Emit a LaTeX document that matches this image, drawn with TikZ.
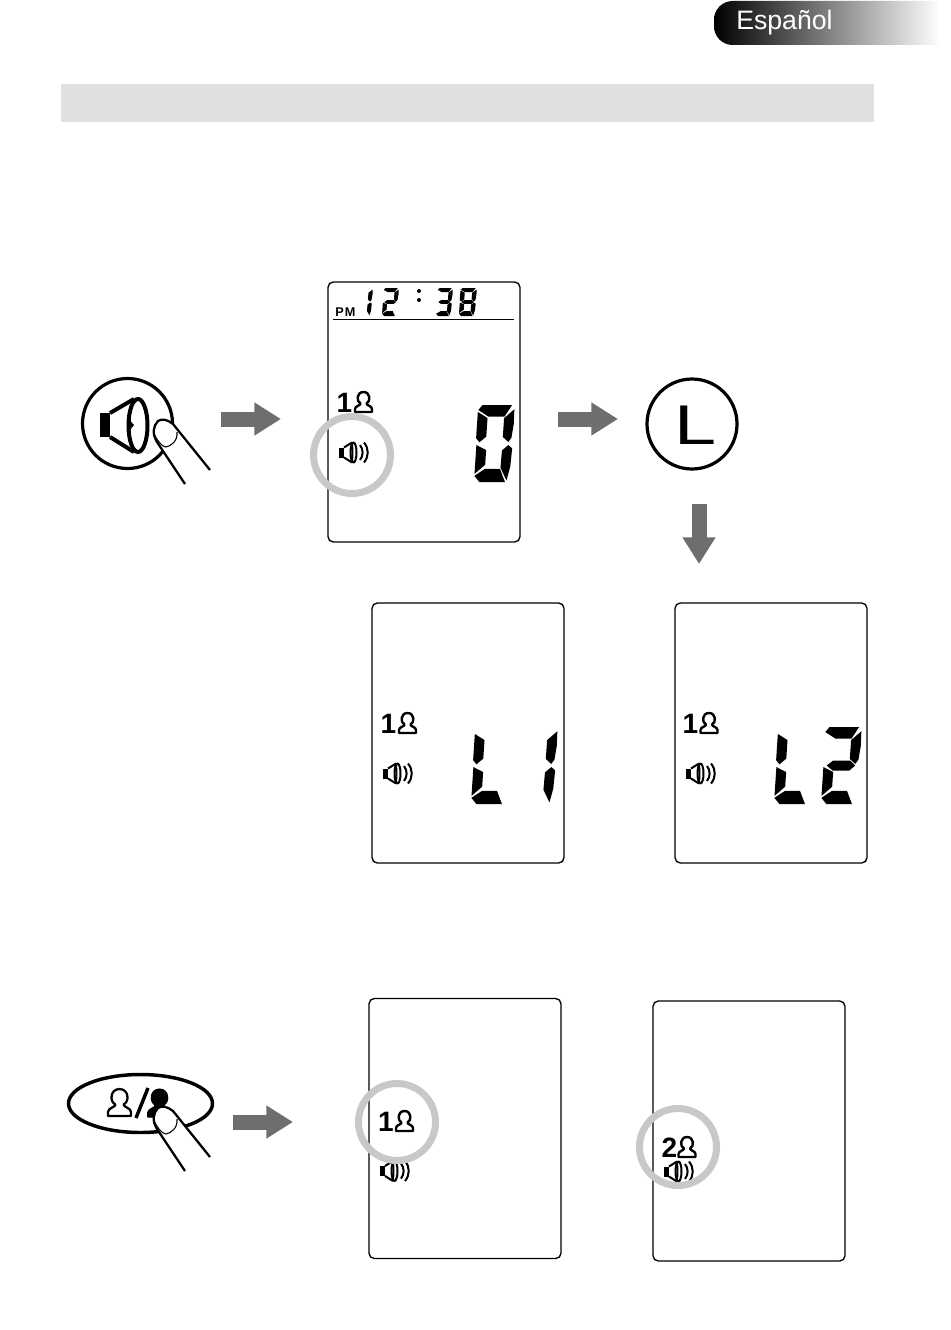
\documentclass[tikz,border=0pt]{standalone}
\usepackage{fontspec}
\setmainfont{Liberation Sans}
\usetikzlibrary{arrows.meta, shapes.geometric}
\definecolor{bar_gray}{HTML}{dfe1e0}
\definecolor{arrow_gray}{HTML}{6e6e6e}
\definecolor{ring_gray}{HTML}{c8c8c8}
\tikzset{
	lcd/.style={draw, line width=1pt, rounded corners=4pt, minimum width=144pt, minimum height=195pt, inner sep=0pt},
	btn/.style={draw, circle, line width=2.4pt, minimum size=67.5pt, inner sep=0pt},
	ring/.style={draw=ring_gray, circle, line width=5.25pt, minimum size=57.75pt, inner sep=0pt},
	bigarrow/.style={draw=arrow_gray, line width=11.25pt, -{Triangle[length=20pt, width=23.5pt]}},
	usernum/.style={anchor=base, inner sep=0pt, font=\fontsize{21}{21}\selectfont\bfseries},
	iconline/.style={line width=1.5pt, line join=round},
	personline/.style={line width=1.8pt, line join=round},
}
\def\sega{(-0.1,1.3) -- (1,0) -- (9.2,0) -- (7.3,3) -- (2.8,3) -- cycle}
\def\segb{(9.9,1.1) -- (10,5) -- (9.6,8.5) -- (8.8,9.6) -- (7.2,8.3) -- (7.2,3.4) -- cycle}
\def\segc{(8.9,10.4) -- (10,11.3) -- (9.8,16) -- (9,19.6) -- (7.1,16.3) -- (7.2,11.8) -- cycle}
\def\segd{(0,18.4) -- (2.8,16.6) -- (7,16.6) -- (8.6,20) -- (1.5,20) -- cycle}
\def\sege{(0,10.4) -- (2.8,11.7) -- (2.8,15.5) -- (0,17.9) -- cycle}
\def\segf{(-0.2,1.8) -- (2.6,3.4) -- (2.6,8.2) -- (0.8,9.7) -- (-0.2,8.6) -- cycle}
\def\segg{(0.9,10) -- (2.6,8.7) -- (7.3,8.7) -- (8.8,10) -- (7.3,11.3) -- (2.6,11.3) -- cycle}
\newcommand{\segdigit}[5]{
	\begin{scope}[shift={(#1,#2)}, xscale=#3/10, yscale=#4/20, xslant=0.07]
		\foreach \s in {#5} {\expandafter\fill\csname seg\s\endcsname;}
	\end{scope}
}
\newcommand{\personpath}{(-8.5,0) -- (-8.5,-3) .. controls (-8.5,-6) and (-3,-6.5) .. (-3,-8.5) .. controls (-7.5,-10.5) and (-7,-20) .. (0,-20) .. controls (7,-20) and (7.5,-10.5) .. (3,-8.5) .. controls (3,-6.5) and (8.5,-6) .. (8.5,-3) -- (8.5,0) -- cycle}
\newcommand{\personicon}[3][personline]{
	\begin{scope}[shift={(#2,#3)}]
		\draw[#1] \personpath;
	\end{scope}
}
\newcommand{\spkicon}[2]{
	\begin{scope}[shift={(#1,#2)}]
		\fill (0,-5) rectangle (5,5);
		\draw[iconline] (5,-5) -- (13,-10) (5,5) -- (13,10);
		\draw[iconline] (14.5,0) ellipse (3 and 10);
		\fill (11.5,-9) .. controls (13,-4) and (13,4) .. (11.5,9) -- (14,9) .. controls (14.5,4) and (14.5,-4) .. (14,-9) -- cycle;
		\draw[line width=1.5pt] (21,-7.5) .. controls (24.5,-3) and (24.5,3) .. (21,7.5);
		\draw[line width=1.5pt] (25,-10) .. controls (30,-4) and (30,4) .. (25,10);
	\end{scope}
}
\newcommand{\fingertip}[1]{
	\begin{scope}[shift={(0,#1)}]
		\path[fill=white, draw, line width=1.7pt, line join=round] (185,484) -- (157,442) .. controls (152,434) and (153,426) .. (158,421) .. controls (162,418) and (168,420) .. (173,424) -- (210,470);
		\draw[line width=0.8pt] (154,434) .. controls (157,440) and (162,447) .. (166,447) .. controls (171,446) and (178,441) .. (177,432);
	\end{scope}
}
\begin{document}
\begin{tikzpicture}[x=0.75pt, y=-0.75pt]
	\useasboundingbox (0,0) rectangle (950,1330);
	\shade[left color=black, middle color=black!40, right color=white] (940,1) [rounded corners=14pt] -- (714,1) -- (714,45) [sharp corners] -- (940,45) -- cycle;
	\node[text=white, anchor=base west, inner sep=0pt, font=\fontsize{20}{20}\selectfont] (tabLabel) at (736,30) {Español};
	\fill[bar_gray] (61,84) rectangle (874,122);

	\node[btn] (btnSpk) at (127.5,423.5) {};
	\fill (100,413) rectangle (110,437);
	\draw[line width=3pt, line join=round] (110,413) -- (134,399) (110,437) -- (134,452);
	\draw[line width=3pt] (138,425.5) ellipse (9.5 and 26.5);
	\fill (129,405) .. controls (129,416) and (129,421) .. (134,425) .. controls (129,429) and (129,436) .. (129,446) -- cycle;
	\fingertip{0}

	\coordinate (arrA) at (221,419);
	\coordinate (arrB) at (281,419);
	\draw[bigarrow] (arrA) -- (arrB);

	\node[lcd] (lcdA) at (424,412) {};
	\draw[line width=0.9pt] (333,319.5) -- (514,319.5);
	\node[anchor=base west, inner sep=0pt, font=\fontsize{9.5}{10}\selectfont\bfseries] (pmLabel) at (335,316) {P\kern0.8pt M};
	\segdigit{358}{288}{15}{28}{b,c}
	\segdigit{384}{288}{15}{28}{a,b,g,e,d}
	\segdigit{438}{288}{15}{28}{a,b,g,c,d}
	\segdigit{461}{288}{16}{28}{a,b,c,d,e,f,g}
	\fill (419,291) circle (2) (419,300) circle (2);
	\node[usernum] (numA) at (344.5,412) {1};
	\personicon{363.5}{412}
	\spkicon{339}{452.5}
	\segdigit{479}{405}{36}{77}{a,b,c,d,e,f}
	\node[ring] (ringA) at (352,455) {};

	\coordinate (arrC) at (558,419);
	\coordinate (arrD) at (618,419);
	\draw[bigarrow] (arrC) -- (arrD);

	\node[btn] (btnL) at (692,424) {};
	\node[inner sep=0pt, font=\fontsize{42}{42}\selectfont] (letterL) at (696,425) {\scalebox{1.35}[1]{L}};

	\coordinate (arrE) at (699,504);
	\coordinate (arrF) at (699,564);
	\draw[bigarrow] (arrE) -- (arrF);

	\node[lcd] (lcdB) at (468,733) {};
	\node[usernum] (numB) at (388.5,733) {1};
	\personicon{407.5}{733}
	\spkicon{383}{773.5}
	\segdigit{476}{727}{36}{77}{e,d,f}
	\segdigit{522}{727}{36}{77}{b,c}

	\node[lcd] (lcdC) at (771,733) {};
	\node[usernum] (numC) at (690.5,733) {1};
	\personicon{709}{733}
	\spkicon{686}{773.5}
	\segdigit{779}{727}{36}{77}{e,d,f}
	\segdigit{826}{727}{36}{77}{a,b,g,e,d}

	\node[draw, ellipse, line width=2.6pt, minimum width=108pt, minimum height=43.5pt, inner sep=0pt] (btnUser) at (140.5,1103.5) {};
	\personicon[scale=1.35, line width=1.7pt, line join=round]{119.5}{1116}
	\draw[line width=2.6pt] (148,1088) -- (136,1118);
	\personicon[scale=1.4, fill, line width=0.8pt, line join=round]{159.5}{1117}
	\fingertip{687}

	\coordinate (arrG) at (233,1122);
	\coordinate (arrH) at (293,1122);
	\draw[bigarrow] (arrG) -- (arrH);

	\node[lcd] (lcdD) at (465,1128.5) {};
	\node[usernum] (numD) at (386,1131) {1};
	\personicon{404.5}{1131}
	\spkicon{380}{1171}
	\node[ring] (ringD) at (397,1122) {};

	\node[lcd] (lcdE) at (749,1131) {};
	\node[usernum] (numE) at (669.5,1157) {2};
	\personicon{687}{1157}
	\spkicon{664}{1171.5}
	\node[ring] (ringE) at (678,1147) {};
\end{tikzpicture}
\end{document}
